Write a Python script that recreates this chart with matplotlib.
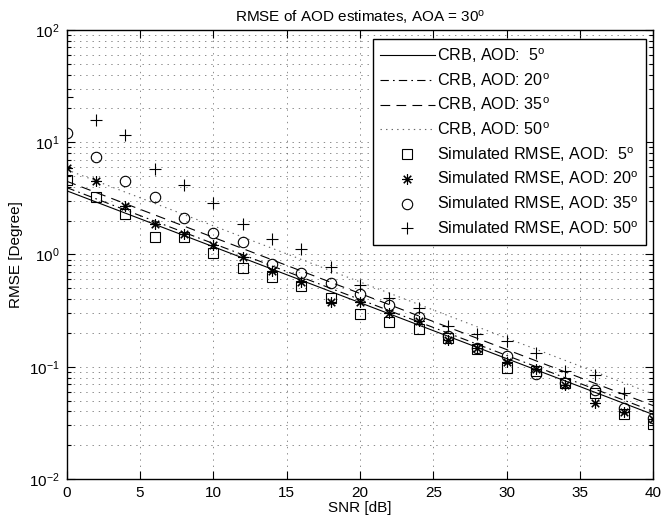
import matplotlib
matplotlib.use("Agg")
import matplotlib.pyplot as plt
from matplotlib.ticker import LogLocator, NullFormatter, MultipleLocator

plt.rcParams['font.family'] = ['Liberation Sans', 'DejaVu Sans']
plt.rcParams['mathtext.fontset'] = 'custom'
plt.rcParams['mathtext.rm'] = 'Liberation Sans'
plt.rcParams['mathtext.it'] = 'Liberation Sans'
plt.rcParams['mathtext.default'] = 'regular'
plt.rcParams['lines.scale_dashes'] = False

# SNR grid of the simulations
snr = [0, 2, 4, 6, 8, 10, 12, 14, 16, 18, 20, 22, 24, 26, 28, 30, 32, 34, 36, 38, 40]

# simulated RMSE (degrees)
sim_5 = [4.62, 3.28, 2.30, 1.44, 1.42, 1.04, 0.755, 0.636, 0.525, 0.408, 0.296,
         0.249, 0.216, 0.180, 0.145, 0.097, 0.091, 0.0714, 0.0582, 0.0381, 0.031]
sim_20 = [5.87, 4.52, 2.71, 1.87, 1.52, 1.22, 0.957, 0.719, 0.574, 0.381, 0.376,
          0.304, 0.253, 0.174, 0.146, 0.111, 0.095, 0.069, 0.0474, 0.0399, 0.0341]
sim_35 = [12.0, 7.35, 4.55, 3.24, 2.10, 1.55, 1.29, 0.818, 0.690, 0.555, 0.446,
          0.356, 0.280, 0.186, 0.147, 0.125, 0.0865, 0.0714, 0.0622, 0.0428, 0.0348]
sim_50 = [25.5, 15.8, 11.6, 5.78, 4.17, 2.90, 1.87, 1.38, 1.11, 0.771, 0.536,
          0.408, 0.333, 0.231, 0.196, 0.168, 0.132, 0.0925, 0.0847, 0.0582, 0.0514]

# CRB curves are straight on the log axis: end points at 0 and 40 dB
crb_snr = [0, 40]
crb_5 = [3.7, 0.0375]
crb_20 = [3.95, 0.040]
crb_35 = [4.5, 0.045]
crb_50 = [5.7, 0.057]

fig = plt.figure(figsize=(6.64, 5.28), dpi=100)
ax = fig.add_axes([0.1002, 0.0928, 0.8837, 0.8504])

lw = 0.8
ax.semilogy(crb_snr, crb_5, color='k', lw=lw, ls='-', label='CRB, AOD:  5$^o$')
ax.semilogy(crb_snr, crb_20, color='k', lw=lw, ls=(0, (6, 3, 1.2, 3)), label='CRB, AOD: 20$^o$')
ax.semilogy(crb_snr, crb_35, color='k', lw=lw, ls=(0, (7, 4.5)), label='CRB, AOD: 35$^o$')
ax.semilogy(crb_snr, crb_50, color='0.4', lw=lw, ls=(0, (1, 3)), label='CRB, AOD: 50$^o$')

ms = 6.5
ax.semilogy(snr, sim_5, ls='none', marker='s', ms=ms, mfc='none', mec='k', mew=0.8,
            label='Simulated RMSE, AOD:  5$^o$')
ax.semilogy(snr, sim_20, ls='none', marker=(8, 2, 0), ms=ms + 1, mfc='none', mec='k', mew=0.8,
            label='Simulated RMSE, AOD: 20$^o$')
ax.semilogy(snr, sim_35, ls='none', marker='o', ms=ms + 1, mfc='none', mec='k', mew=0.8,
            label='Simulated RMSE, AOD: 35$^o$')
ax.semilogy(snr, sim_50, ls='none', marker='+', ms=ms + 2.5, mfc='none', mec='k', mew=0.8,
            label='Simulated RMSE, AOD: 50$^o$')

ax.set_xlim(0, 40)
ax.set_ylim(1e-2, 1e2)
ax.xaxis.set_major_locator(MultipleLocator(5))
ax.yaxis.set_major_locator(LogLocator(base=10, numticks=10))
ax.yaxis.set_minor_locator(LogLocator(base=10, subs=range(2, 10), numticks=10))
ax.yaxis.set_minor_formatter(NullFormatter())

ax.grid(True, which='major', axis='both', color='0.3', ls=(0, (1, 3.5)), lw=0.45)
ax.grid(True, which='minor', axis='y', color='0.3', ls=(0, (1, 3.5)), lw=0.45)

ax.tick_params(which='both', direction='in', top=True, right=True, labelsize=11, width=0.8)
ax.tick_params(which='major', length=6, pad=5)
ax.tick_params(which='minor', length=3)
for s in ax.spines.values():
    s.set_linewidth(1.0)

ax.set_xlabel('SNR [dB]', fontsize=11, labelpad=1)
ax.set_ylabel('RMSE [Degree]', fontsize=11, labelpad=4)
ax.set_title('RMSE of AOD estimates, AOA = 30$^o$', fontsize=11, pad=6)

leg = ax.legend(loc='upper right', bbox_to_anchor=(0.9876, 0.980), borderaxespad=0,
                fontsize=11.6, numpoints=1, handlelength=3.4, handletextpad=0.15,
                labelspacing=0.38, borderpad=0.45, fancybox=False, framealpha=1,
                edgecolor='k')
leg.get_frame().set_linewidth(1.0)

plt.savefig('out.png', dpi=100)
